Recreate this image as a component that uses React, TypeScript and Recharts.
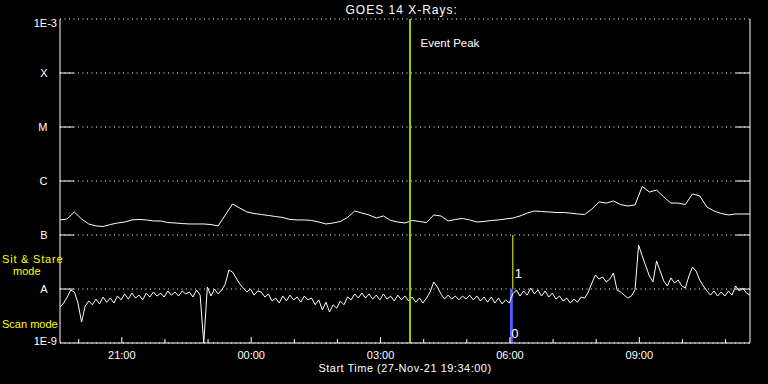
import React from 'react';
import {
  LineChart,
  Line,
  XAxis,
  YAxis,
  CartesianGrid,
  ReferenceLine,
  ReferenceArea,
} from 'recharts';

const FONT = '"Liberation Sans", Arial, sans-serif';

// minutes after start time (27-Nov-21 19:34:00)
const timeTicks = [26, 86, 146, 206, 266, 326, 386, 446, 506, 566, 626, 686, 746, 806, 866, 926];
const timeLabels = ['', '21:00', '', '', '00:00', '', '', '03:00', '', '', '06:00', '', '', '09:00', '', ''];

const yTicks = [1e-9, 1e-8, 1e-7, 1e-6, 1e-5, 1e-4, 1e-3];
const yLabels = ['1E-9', 'A', 'B', 'C', 'M', 'X', '1E-3'];

// 1-8 A channel, one value every 10 min (W/m^2)
const longFlux = [
  1.9e-7, 1.98e-7, 2.67e-7, 1.98e-7, 1.6e-7, 1.47e-7, 1.44e-7, 1.56e-7, 1.67e-7, 1.74e-7,
  1.9e-7, 1.94e-7, 1.9e-7, 1.82e-7, 1.82e-7, 1.7e-7, 1.67e-7, 1.63e-7, 1.6e-7, 1.6e-7,
  1.6e-7, 1.56e-7, 1.47e-7, 2.35e-7, 3.75e-7, 3.16e-7, 2.67e-7, 2.5e-7, 2.4e-7, 2.3e-7,
  2.2e-7, 2.11e-7, 1.94e-7, 1.9e-7, 1.9e-7, 1.86e-7, 1.74e-7, 1.6e-7, 1.67e-7, 1.78e-7,
  2.11e-7, 2.78e-7, 2.55e-7, 2.35e-7, 2.06e-7, 2.25e-7, 1.86e-7, 1.74e-7, 1.67e-7, 1.86e-7,
  1.78e-7, 1.7e-7, 2.35e-7, 2.25e-7, 1.82e-7, 1.94e-7, 2.02e-7, 1.9e-7, 1.74e-7, 1.78e-7,
  1.86e-7, 1.9e-7, 1.98e-7, 2.06e-7, 2.25e-7, 2.55e-7, 2.78e-7, 2.72e-7, 2.67e-7, 2.61e-7,
  2.61e-7, 2.55e-7, 2.45e-7, 2.4e-7, 3.03e-7, 4.1e-7, 3.9e-7, 4.26e-7, 3.67e-7, 3.45e-7,
  3.6e-7, 7.9e-7, 6.25e-7, 6.8e-7, 5.05e-7, 3.9e-7, 3.9e-7, 3.67e-7, 5.75e-7, 5.3e-7,
  3.3e-7, 2.78e-7, 2.5e-7, 2.35e-7, 2.45e-7, 2.45e-7, 2.45e-7,
];

// 0.5-4 A channel, one value every 5 min (W/m^2)
const shortFlux = [
  4.6e-9, 5.5e-9, 7.1e-9, 9.6e-9, 8.8e-9, 5.5e-9, 2.45e-9, 4.8e-9, 6.0e-9, 5.1e-9,
  6.5e-9, 5.3e-9, 7.1e-9, 5.7e-9, 6.8e-9, 5.5e-9, 7.4e-9, 6.3e-9, 8.1e-9, 6.5e-9,
  8.4e-9, 6.8e-9, 7.7e-9, 6.3e-9, 8.4e-9, 7.1e-9, 8.8e-9, 7.4e-9, 8.4e-9, 7.1e-9,
  9.2e-9, 7.7e-9, 8.8e-9, 7.4e-9, 9.2e-9, 8.1e-9, 8.8e-9, 7.1e-9, 9.6e-9, 7.7e-9,
  1.0e-9, 1.09e-8, 7.4e-9, 1.0e-8, 8.1e-9, 9.6e-9, 1.24e-8, 2.25e-8, 2.06e-8, 1.6e-8,
  1.24e-8, 1.04e-8, 8.8e-9, 1.0e-8, 7.7e-9, 9.2e-9, 8.8e-9, 7.1e-9, 8.1e-9, 6.0e-9,
  6.8e-9, 5.5e-9, 7.4e-9, 6.0e-9, 7.7e-9, 6.3e-9, 7.1e-9, 5.7e-9, 7.4e-9, 6.3e-9,
  6.8e-9, 5.1e-9, 6.3e-9, 4.1e-9, 5.7e-9, 3.75e-9, 5.1e-9, 4.4e-9, 6.0e-9, 5.1e-9,
  7.1e-9, 6.3e-9, 8.1e-9, 6.8e-9, 8.4e-9, 6.8e-9, 8.1e-9, 6.5e-9, 7.7e-9, 6.3e-9,
  8.1e-9, 6.5e-9, 7.4e-9, 6.0e-9, 7.7e-9, 6.3e-9, 7.4e-9, 6.0e-9, 7.1e-9, 5.7e-9,
  6.8e-9, 5.5e-9, 6.8e-9, 8.8e-9, 1.35e-8, 1.09e-8, 8.1e-9, 6.5e-9, 7.7e-9, 6.5e-9,
  7.4e-9, 6.3e-9, 7.4e-9, 6.5e-9, 7.7e-9, 6.3e-9, 7.4e-9, 6.0e-9, 7.1e-9, 5.7e-9,
  7.1e-9, 5.5e-9, 6.8e-9, 5.3e-9, 6.3e-9, 5.5e-9, 8.1e-9, 9.6e-9, 7.4e-9, 9.2e-9,
  7.7e-9, 1.04e-8, 8.1e-9, 9.6e-9, 7.4e-9, 9.2e-9, 7.1e-9, 8.4e-9, 6.5e-9, 7.4e-9,
  6.0e-9, 6.8e-9, 5.5e-9, 6.5e-9, 5.7e-9, 7.1e-9, 6.8e-9, 8.8e-9, 1.29e-8, 1.82e-8,
  1.53e-8, 1.67e-8, 1.35e-8, 1.53e-8, 1.98e-8, 9.6e-9, 8.8e-9, 7.7e-9, 6.8e-9, 7.4e-9,
  9.6e-9, 6.5e-8, 4.1e-8, 2.67e-8, 1.74e-8, 1.35e-8, 3.3e-8, 2.15e-8, 1.41e-8, 1.14e-8,
  1.6e-8, 1.29e-8, 1.47e-8, 1.14e-8, 1.04e-8, 1.74e-8, 2.55e-8, 2.15e-8, 1.47e-8, 1.14e-8,
  9.2e-9, 7.7e-9, 9.2e-9, 7.4e-9, 8.8e-9, 7.4e-9, 9.2e-9, 7.7e-9, 1.14e-8, 9.2e-9,
  1.04e-8, 8.4e-9, 7.7e-9,
];

const eventPeakT = 487; // 03:41
const modeStart = 626; // 06:00, sit & stare mode bar
const modeEnd = 630;

const longData = longFlux.map((v, i) => ({ t: i * 10, v }));
const shortData = shortFlux.map((v, i) => ({ t: i * 5, v }));

const txt = { fill: '#fff', fontFamily: FONT, fontSize: 11 };

const yIndex = (v: number) =>
  yTicks.findIndex((t) => Math.abs(Math.log10(t) - Math.log10(v)) < 0.01);

function BottomTick({ x, y, payload }: any) {
  const label = timeLabels[timeTicks.indexOf(payload.value)] || '';
  return (
    <g>
      <line x1={x} x2={x} y1={y} y2={y - (label ? 6 : 4)} stroke="#fff" />
      {label && (
        <text x={x} y={y + 16} textAnchor="middle" {...txt}>
          {label}
        </text>
      )}
    </g>
  );
}

function TopTick({ x, y, payload }: any) {
  const label = timeLabels[timeTicks.indexOf(payload.value)] || '';
  return <line x1={x} x2={x} y1={y} y2={y + (label ? 6 : 4)} stroke="#fff" />;
}

function LeftTick({ x, y, payload }: any) {
  const i = yIndex(payload.value);
  if (i === 0) return <text x={x - 3} y={y + 1.5} textAnchor="end" {...txt}>{yLabels[i]}</text>;
  if (i === yTicks.length - 1) return <text x={x - 3} y={y + 8} textAnchor="end" {...txt}>{yLabels[i]}</text>;
  return (
    <g>
      <line x1={x} x2={x + 14} y1={y} y2={y} stroke="#fff" />
      <text x={x - 12.5} y={y + 4} textAnchor="end" {...txt}>
        {yLabels[i]}
      </text>
    </g>
  );
}

function RightTick({ x, y, payload }: any) {
  const i = yIndex(payload.value);
  if (i <= 0 || i >= yTicks.length - 1) return <g />;
  return <line x1={x} x2={x - 14} y1={y} y2={y} stroke="#fff" />;
}

export default function App() {
  return (
    <div style={{ position: 'absolute', left: 0, top: 0, width: 768, height: 384, background: '#000', overflow: 'hidden' }}>
      <LineChart width={768} height={384} margin={{ top: 19, right: 0, bottom: 0, left: 0 }}>
        <CartesianGrid vertical={false} stroke="#fff" strokeDasharray="1 3.5" />
        <XAxis
          dataKey="t"
          type="number"
          domain={[0, 960]}
          ticks={timeTicks}
          interval={0}
          height={41}
          tickSize={0}
          tickMargin={0}
          tickLine={false}
          axisLine={{ stroke: '#fff' }}
          tick={BottomTick}
          allowDataOverflow
          label={(p: any) => (
            <text
              x={p.viewBox.x + p.viewBox.width / 2}
              y={p.viewBox.y + 29}
              textAnchor="middle"
              {...txt}
              letterSpacing={0.5}
            >
              Start Time (27-Nov-21 19:34:00)
            </text>
          )}
        />
        <XAxis
          xAxisId="top"
          orientation="top"
          dataKey="t"
          type="number"
          domain={[0, 960]}
          ticks={timeTicks}
          interval={0}
          height={0}
          tickSize={0}
          tickMargin={0}
          tickLine={false}
          axisLine={{ stroke: '#fff' }}
          tick={TopTick}
          allowDataOverflow
        />
        <YAxis
          scale="log"
          type="number"
          domain={[1e-9, 1e-3]}
          ticks={yTicks}
          interval={0}
          width={60}
          tickSize={0}
          tickMargin={0}
          tickLine={false}
          axisLine={{ stroke: '#fff' }}
          tick={LeftTick}
          allowDataOverflow
        />
        <YAxis
          yAxisId="r"
          orientation="right"
          scale="log"
          type="number"
          domain={[1e-9, 1e-3]}
          ticks={yTicks}
          interval={0}
          width={18}
          tickSize={0}
          tickMargin={0}
          tickLine={false}
          axisLine={{ stroke: '#fff' }}
          tick={RightTick}
          allowDataOverflow
        />
        <ReferenceArea
          x1={modeStart}
          x2={modeEnd}
          y1={1e-9}
          y2={1e-8}
          fill="#5a5aff"
          fillOpacity={1}
          stroke="none"
          label={(p: any) => (
            <text x={p.viewBox.x + 5} y={p.viewBox.y + 49} textAnchor="middle" {...txt} fontSize={13}>
              0
            </text>
          )}
        />
        <ReferenceLine
          segment={[
            { x: modeEnd, y: 1e-8 },
            { x: modeEnd, y: 1e-7 },
          ]}
          stroke="#ffff00"
          label={(p: any) => (
            <text x={p.viewBox.x + 2} y={p.viewBox.y + 43} {...txt} fontSize={13}>
              1
            </text>
          )}
        />
        <Line
          data={longData}
          dataKey="v"
          type="linear"
          stroke="#fff"
          strokeWidth={1}
          dot={false}
          isAnimationActive={false}
        />
        <Line
          data={shortData}
          dataKey="v"
          xAxisId="top"
          yAxisId="r"
          type="linear"
          stroke="#fff"
          strokeWidth={1}
          dot={false}
          isAnimationActive={false}
        />
        <ReferenceLine
          x={eventPeakT}
          stroke="#99cc00"
          strokeWidth={2}
          label={(p: any) => (
            <text x={p.viewBox.x + 10.5} y={p.viewBox.y + 27.5} {...txt} fontSize={11.5}>
              Event Peak
            </text>
          )}
        />
      </LineChart>
      <svg
        width={768}
        height={384}
        style={{ position: 'absolute', left: 0, top: 0, pointerEvents: 'none' }}
      >
        <text x={401.7} y={14} textAnchor="middle" {...txt} fontSize={12} letterSpacing={1}>
          GOES 14 X-Rays:
        </text>
        <text x={2} y={263} {...txt} fill="#ffff00" letterSpacing={0.8}>
          Sit &amp; Stare
        </text>
        <text x={13} y={275} {...txt} fill="#ffff00">
          mode
        </text>
        <text x={2} y={328} {...txt} fill="#ffff00">
          Scan mode
        </text>
      </svg>
    </div>
  );
}
